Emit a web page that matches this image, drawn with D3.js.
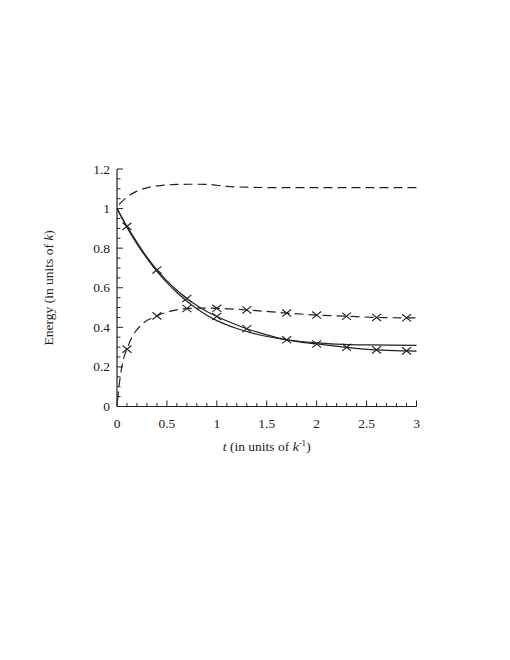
<!DOCTYPE html>
<html>
<head>
<meta charset="utf-8">
<script src="https://d3js.org/d3.v7.min.js"></script>
<style>
    body { margin: 0; background: #fff; }
    svg { font-family: "Liberation Serif", "DejaVu Serif", serif; }
    .tick-label { font-size: 13.5px; fill: #222; }
    .axis-title { font-size: 13.5px; fill: #222; }
</style>
</head>
<body>
<svg id="chart" width="510" height="660"></svg>
<script>
    // upper dashed curve (no markers)
    const upperT = [0.02, 0.06, 0.12, 0.2, 0.3, 0.45, 0.6, 0.75, 0.9, 1.0, 1.1, 1.3, 1.6, 2.0, 2.5, 3.0];
    const upperE = [1.02, 1.04, 1.065, 1.088, 1.105, 1.117, 1.122, 1.123, 1.122, 1.118, 1.112, 1.108, 1.106, 1.106, 1.106, 1.106];

    // lower dashed curve with crosses
    const dashT = [0.005, 0.03, 0.06, 0.1, 0.15, 0.25, 0.4, 0.55, 0.7, 0.85, 1.0, 1.3, 1.7, 2.0, 2.3, 2.6, 2.9, 3.0];
    const dashE = [0.03, 0.14, 0.23, 0.29, 0.35, 0.415, 0.458, 0.483, 0.495, 0.497, 0.496, 0.488, 0.472, 0.462, 0.456, 0.45, 0.448, 0.448];
    const dashMarkT = [0.1, 0.4, 0.7, 1.0, 1.3, 1.7, 2.0, 2.3, 2.6, 2.9];
    const dashMarkE = [0.29, 0.458, 0.495, 0.496, 0.488, 0.472, 0.462, 0.456, 0.45, 0.448];

    // solid curve with crosses
    const solidXT = [0, 0.1, 0.2, 0.3, 0.4, 0.5, 0.6, 0.7, 0.8, 0.9, 1.0, 1.2, 1.3, 1.5, 1.7, 2.0, 2.3, 2.6, 2.9, 3.0];
    const solidXE = [1.0, 0.91, 0.83, 0.755, 0.69, 0.635, 0.587, 0.546, 0.51, 0.48, 0.455, 0.412, 0.393, 0.362, 0.337, 0.316, 0.299, 0.286, 0.281, 0.28];
    const solidMarkT = [0.1, 0.4, 0.7, 1.0, 1.3, 1.7, 2.0, 2.3, 2.6, 2.9];
    const solidMarkE = [0.91, 0.69, 0.546, 0.455, 0.393, 0.337, 0.316, 0.299, 0.286, 0.281];

    // plain solid curve
    const solidT = [0, 0.1, 0.2, 0.3, 0.4, 0.5, 0.6, 0.7, 0.8, 0.9, 1.0, 1.2, 1.4, 1.6, 1.8, 2.0, 2.2, 2.5, 3.0];
    const solidE = [1.0, 0.905, 0.822, 0.748, 0.683, 0.626, 0.576, 0.532, 0.494, 0.461, 0.434, 0.394, 0.365, 0.345, 0.331, 0.321, 0.315, 0.311, 0.309];

    const xTicks = [0, 0.5, 1, 1.5, 2, 2.5, 3];
    const yTicks = [0, 0.2, 0.4, 0.6, 0.8, 1, 1.2];

    const svg = d3.select('#chart');
    const ink = '#222';

    const x = d3.scaleLinear().domain([0, 3]).range([117, 416.5]);
    const y = d3.scaleLinear().domain([0, 1.2]).range([406.5, 169]);

    const line = d3.line()
        .x(d => x(d[0]))
        .y(d => y(d[1]))
        .curve(d3.curveMonotoneX);

    // axes: ticks point into the plot
    const xMinor = d3.range(0, 3.0001, 0.1);
    const yMinor = d3.range(0, 1.2001, 0.05);

    svg.append('line')
        .attr('x1', x(0)).attr('x2', x(3))
        .attr('y1', y(0)).attr('y2', y(0))
        .attr('stroke', ink).attr('stroke-width', 1.2);
    svg.append('line')
        .attr('x1', x(0)).attr('x2', x(0))
        .attr('y1', y(0)).attr('y2', y(1.2))
        .attr('stroke', ink).attr('stroke-width', 1.2);

    svg.append('g').selectAll('line')
        .data(xMinor)
        .join('line')
        .attr('x1', d => x(d)).attr('x2', d => x(d))
        .attr('y1', y(0))
        .attr('y2', (d, i) => y(0) - (i % 5 === 0 ? 6 : 3.5))
        .attr('stroke', ink).attr('stroke-width', 1);

    svg.append('g').selectAll('line')
        .data(yMinor)
        .join('line')
        .attr('y1', d => y(d)).attr('y2', d => y(d))
        .attr('x1', x(0))
        .attr('x2', (d, i) => x(0) + (i % 4 === 0 ? 6 : 3.5))
        .attr('stroke', ink).attr('stroke-width', 1);

    svg.append('g').selectAll('text')
        .data(xTicks)
        .join('text')
        .attr('class', 'tick-label')
        .attr('x', d => x(d))
        .attr('y', y(0) + 21)
        .attr('text-anchor', 'middle')
        .text(d => d);

    svg.append('g').selectAll('text')
        .data(yTicks)
        .join('text')
        .attr('class', 'tick-label')
        .attr('x', x(0) - 7)
        .attr('y', d => y(d) + 4.5)
        .attr('text-anchor', 'end')
        .text(d => d);

    // axis titles
    const xt = svg.append('text')
        .attr('class', 'axis-title')
        .attr('x', (x(0) + x(3)) / 2)
        .attr('y', 451)
        .attr('text-anchor', 'middle');
    xt.append('tspan').attr('font-style', 'italic').text('t');
    xt.append('tspan').text(' (in units of ');
    xt.append('tspan').attr('font-style', 'italic').text('k');
    xt.append('tspan').attr('font-size', '9px').attr('dy', -5).text('-1');
    xt.append('tspan').attr('dy', 5).text(')');

    const yt = svg.append('text')
        .attr('class', 'axis-title')
        .attr('transform', `translate(53,${y(0.6)}) rotate(-90)`)
        .attr('text-anchor', 'middle');
    yt.append('tspan').text('Energy (in units of ');
    yt.append('tspan').attr('font-style', 'italic').text('k');
    yt.append('tspan').text(')');

    // curves
    const curves = [
        { t: upperT, e: upperE, dash: '9,5' },
        { t: dashT, e: dashE, dash: '9,5' },
        { t: solidXT, e: solidXE, dash: null },
        { t: solidT, e: solidE, dash: null }
    ];

    svg.append('g').selectAll('path')
        .data(curves)
        .join('path')
        .attr('d', c => line(c.t.map((t, i) => [t, c.e[i]])))
        .attr('fill', 'none')
        .attr('stroke', ink)
        .attr('stroke-width', 1.2)
        .attr('stroke-dasharray', c => c.dash);

    // cross markers
    const marks = dashMarkT.map((t, i) => [t, dashMarkE[i]])
        .concat(solidMarkT.map((t, i) => [t, solidMarkE[i]]));
    const s = 4.5;
    svg.append('g').selectAll('path')
        .data(marks)
        .join('path')
        .attr('d', d => {
            const cx = x(d[0]), cy = y(d[1]);
            return `M${cx - s},${cy - s * 0.8}L${cx + s},${cy + s * 0.8}M${cx - s},${cy + s * 0.8}L${cx + s},${cy - s * 0.8}`;
        })
        .attr('fill', 'none')
        .attr('stroke', ink)
        .attr('stroke-width', 1.1);
</script>
</body>
</html>
